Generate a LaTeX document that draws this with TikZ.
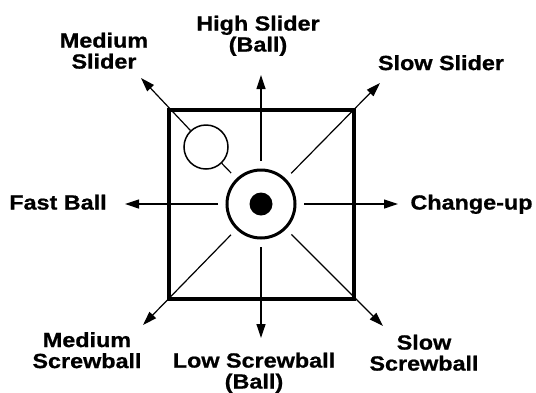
\documentclass[tikz,border=0pt]{standalone}
\usepackage{fontspec}
\newfontfamily\lblfont[FakeStretch=1.14,FakeBold=0.8]{Liberation Sans}
\usepackage{tikz}
\usetikzlibrary{arrows.meta}

\begin{document}
\begin{tikzpicture}[x=1pt,y=-1pt,
  lbl/.style={font=\lblfont\bfseries\fontsize{20.5}{21}\selectfont, align=center, inner sep=0pt, anchor=north},
  spoke/.style={line width=1.2pt},
  arr/.style={spoke,-{Triangle[length=14pt,width=9pt]}}]
  \useasboundingbox (0,0) rectangle (536,392);

  % strike zone
  \node[draw, rectangle, line width=4pt, minimum width=185pt, minimum height=189pt, inner sep=0pt] (zone) at (261.5,204.5) {};

  % target ring, dot and ball
  \node[draw, circle, line width=3pt, minimum size=68pt, inner sep=0pt, outer sep=9pt] (c) at (261,204) {};
  \node[fill, circle, minimum size=23pt, inner sep=0pt] (dot) at (261,204) {};
  \node[draw, circle, line width=1.5pt, minimum size=44pt, inner sep=0pt] (b) at (206,147) {};

  % arrow tips
  \coordinate (tn) at (261,75);
  \coordinate (ts) at (261,338);
  \coordinate (tw) at (125,204);
  \coordinate (te) at (398,204);
  \coordinate (tnw) at (141,78);
  \coordinate (tne) at (380,83);
  \coordinate (tsw) at (143,325);
  \coordinate (tse) at (383,326);

  % spokes
  \draw[arr] (c) -- (tn);
  \draw[arr] (c) -- (ts);
  \draw[arr] (c) -- (tw);
  \draw[arr] (c) -- (te);
  \draw[arr] (c) -- (tne);
  \draw[arr] (c) -- (tsw);
  \draw[arr] (c) -- (tse);
  \draw[spoke] (c) -- (b);
  \draw[arr] (b) -- (tnw);

  % labels
  \node[lbl] (hs) at (258,15.5) {High Slider\\(Ball)};
  \node[lbl] (ms) at (104,32.5) {Medium\\Slider};
  \node[lbl] (ss) at (441,55) {Slow Slider};
  \node[lbl] (fb) at (58,194.5) {Fast Ball};
  \node[lbl] (cu) at (471.5,194.5) {Change-up};
  \node[lbl] (mw) at (87,332) {Medium\\Screwball};
  \node[lbl] (lw) at (254,352.5) {Low Screwball\\(Ball)};
  \node[lbl] (sw) at (424,334.5) {Slow\\Screwball};
\end{tikzpicture}
\end{document}
